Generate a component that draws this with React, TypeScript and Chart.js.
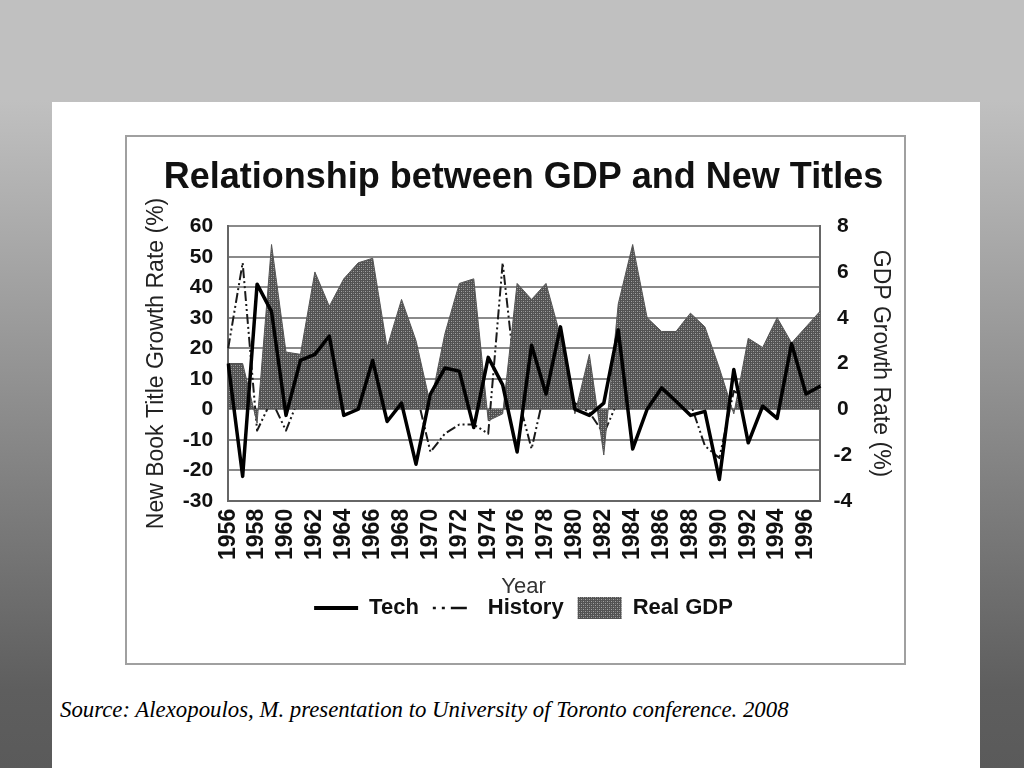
import React, { useEffect, useRef } from "react";
import { Chart, registerables } from "chart.js";

Chart.register(...registerables);

const years = [
  "1956", "1957", "1958", "1959", "1960", "1961", "1962", "1963", "1964", "1965",
  "1966", "1967", "1968", "1969", "1970", "1971", "1972", "1973", "1974", "1975",
  "1976", "1977", "1978", "1979", "1980", "1981", "1982", "1983", "1984", "1985",
  "1986", "1987", "1988", "1989", "1990", "1991", "1992", "1993", "1994", "1995",
  "1996", "1997",
];

// New book title growth rate (%), left axis
const tech = [
  15, -22, 41, 32, -2, 16, 18, 24, -2, 0,
  16, -4, 2, -18, 5, 13.5, 12.5, -6, 17, 8,
  -14, 21, 5, 27, 0, -2, 2, 26, -13, 0,
  7, 2.6, -2, -0.7, -23, 13, -11, 1, -3, 21.5,
  5, 7.6,
];

const history = [
  20, 48, -7, 3, -7, 5, 9, 4, 6, 3,
  7, 10, 4, 6, -14, -8, -5, -5, -8, 48,
  5, -13, 8, 6, 2, -1, -8, 3, 4, 5,
  3, 13, 2, -12, -16, 6, 3, 2, 6, 17,
  12, 8,
];

// Real GDP growth rate (%), right axis
const realGdp = [
  2.0, 2.0, -0.6, 7.2, 2.5, 2.4, 6.0, 4.5, 5.7, 6.4,
  6.6, 2.7, 4.8, 3.0, 0.2, 3.3, 5.5, 5.7, -0.5, -0.2,
  5.5, 4.8, 5.5, 3.2, -0.2, 2.4, -2.0, 4.6, 7.2, 4.0,
  3.4, 3.4, 4.2, 3.6, 1.8, -0.2, 3.1, 2.7, 4.0, 2.9,
  3.6, 4.3,
];

const titleText = "Relationship between GDP and New Titles";
const leftTitle = "New Book Title Growth Rate (%)";
const rightTitle = "GDP Growth Rate (%)";
const xTitle = "Year";
const legendNames = ["Tech", "History", "Real GDP"];
const sourceText =
  "Source: Alexopoulos, M. presentation to University of Toronto conference. 2008";

const SANS = "'Liberation Sans', Arial, Helvetica, sans-serif";

function makePattern(): CanvasPattern | string {
  const c = document.createElement("canvas");
  c.width = 4;
  c.height = 4;
  const g = c.getContext("2d");
  if (!g) return "#626262";
  g.fillStyle = "#525252";
  g.fillRect(0, 0, 4, 4);
  g.fillStyle = "#a2a2a2";
  g.fillRect(0, 0, 1, 1);
  g.fillRect(2, 2, 1, 1);
  g.fillStyle = "#7c7c7c";
  g.fillRect(2, 0, 1, 1);
  g.fillRect(0, 2, 1, 1);
  return g.createPattern(c, "repeat") || "#626262";
}

function GdpChart() {
  const ref = useRef<HTMLCanvasElement | null>(null);

  useEffect(() => {
    if (!ref.current) return;
    const pattern = makePattern();
    const historyDash = [10, 3, 2, 3, 2, 3];

    const chart = new Chart(ref.current, {
      type: "line",
      data: {
        labels: years,
        datasets: [
          {
            label: legendNames[0],
            data: tech,
            yAxisID: "y",
            borderColor: "#000",
            borderWidth: 3.5,
            borderJoinStyle: "round",
            pointRadius: 0,
            tension: 0,
            fill: false,
            order: 0,
          },
          {
            label: legendNames[1],
            data: history,
            yAxisID: "y",
            borderColor: "#1a1a1a",
            borderWidth: 2,
            borderDash: historyDash,
            borderJoinStyle: "round",
            pointRadius: 0,
            tension: 0,
            fill: false,
            order: 2,
          },
          {
            label: legendNames[2],
            data: realGdp,
            yAxisID: "y1",
            borderColor: "#555",
            borderWidth: 1,
            borderJoinStyle: "round",
            backgroundColor: pattern as any,
            pointRadius: 0,
            tension: 0,
            fill: "origin",
            order: 1,
          },
        ],
      },
      options: {
        animation: false,
        responsive: false,
        events: [],
        layout: { padding: { left: 16, right: 0, top: 0, bottom: 36 } },
        plugins: {
          tooltip: { enabled: false },
          title: {
            display: true,
            text: titleText,
            color: "#111",
            font: { family: SANS, size: 36, weight: "bold" },
            padding: { top: 21, bottom: 27 },
          },
          legend: {
            position: "bottom",
            title: {
              display: true,
              text: xTitle,
              color: "#333",
              font: { family: SANS, size: 22, lineHeight: 0.32 },
              padding: { top: 8, bottom: 0 },
            },
            labels: {
              usePointStyle: true,
              pointStyleWidth: 44,
              boxHeight: 22,
              padding: 14,
              color: "#111",
              font: { family: SANS, size: 22, weight: "bold" },
              generateLabels: () => [
                {
                  text: legendNames[0],
                  pointStyle: "line",
                  strokeStyle: "#000",
                  fillStyle: "#000",
                  lineWidth: 4,
                  lineDash: [],
                  hidden: false,
                  datasetIndex: 0,
                  fontColor: "#111",
                },
                {
                  text: legendNames[1],
                  pointStyle: "line",
                  strokeStyle: "#111",
                  fillStyle: "#111",
                  lineWidth: 2.5,
                  lineDash: [3, 6, 3, 6, 16, 10],
                  hidden: false,
                  datasetIndex: 1,
                  fontColor: "#111",
                },
                {
                  text: legendNames[2],
                  pointStyle: "rect",
                  strokeStyle: "#555",
                  fillStyle: pattern as any,
                  lineWidth: 0,
                  lineDash: [],
                  hidden: false,
                  datasetIndex: 2,
                  fontColor: "#111",
                },
              ],
            },
          },
        },
        scales: {
          x: {
            type: "category",
            offset: false,
            grid: { display: false, drawTicks: false },
            border: { display: true, color: "#666", width: 2 },
            ticks: {
              autoSkip: false,
              minRotation: 90,
              maxRotation: 90,
              padding: 8,
              color: "#111",
              font: { family: SANS, size: 23, weight: "bold" },
              callback: (_v: any, i: number) => (i % 2 === 0 ? years[i] : ""),
            },
          },
          y: {
            position: "left",
            min: -30,
            max: 60,
            grid: { color: "#8a8a8a", lineWidth: 2, drawTicks: false },
            border: { display: true, color: "#666", width: 2 },
            ticks: {
              stepSize: 10,
              padding: 15,
              color: "#111",
              font: { family: SANS, size: 21, weight: "bold" },
            },
            title: {
              display: true,
              text: leftTitle,
              color: "#222",
              font: { family: SANS, size: 23, lineHeight: 0.95 },
              padding: { top: 5, bottom: 0 },
            },
          },
          y1: {
            position: "right",
            min: -4,
            max: 8,
            grid: { display: false, drawTicks: false },
            border: { display: true, color: "#666", width: 2 },
            ticks: {
              stepSize: 2,
              padding: 13,
              crossAlign: "center",
              color: "#111",
              font: { family: SANS, size: 21, weight: "bold" },
            },
            title: {
              display: true,
              text: rightTitle,
              color: "#222",
              font: { family: SANS, size: 23, lineHeight: 0.95 },
              padding: { top: 15, bottom: 4 },
            },
          },
        },
      },
    } as any);

    return () => chart.destroy();
  }, []);

  return (
    <canvas
      ref={ref}
      width={781}
      height={530}
      style={{ position: "absolute", left: 125, top: 135, width: 781, height: 530 }}
    />
  );
}

export default function App() {
  return (
    <div
      style={{
        position: "fixed",
        left: 0,
        top: 0,
        width: 1024,
        height: 768,
        overflow: "hidden",
        background:
          "linear-gradient(to bottom, #c0c0c0 0px, #c0c0c0 100px, #5e5e5e 690px, #5a5a5a 768px)",
      }}
    >
      <div
        style={{
          position: "absolute",
          left: 52,
          top: 102,
          width: 928,
          height: 666,
          background: "#ffffff",
        }}
      />
      <div
        style={{
          position: "absolute",
          left: 125,
          top: 135,
          width: 781,
          height: 530,
          boxSizing: "border-box",
          border: "2px solid #a0a0a0",
          background: "#ffffff",
        }}
      />
      <GdpChart />
      <div
        style={{
          position: "absolute",
          left: 60,
          top: 698,
          fontFamily: "'Liberation Serif', 'Times New Roman', serif",
          fontStyle: "italic",
          fontSize: 22.8,
          lineHeight: "24px",
          color: "#000",
          whiteSpace: "nowrap",
        }}
      >
        {sourceText}
      </div>
    </div>
  );
}
